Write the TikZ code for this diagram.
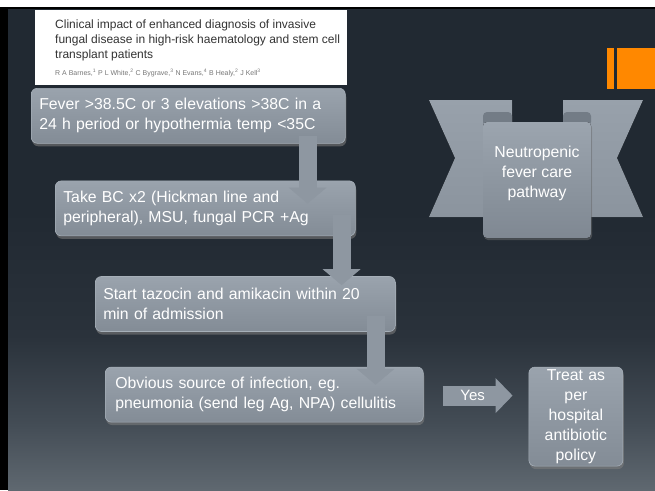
\documentclass[tikz,border=0pt]{standalone}
\usepackage{fontspec}
\setmainfont{Liberation Sans}
\usepackage{xcolor}
\usepackage{tikz}
\usetikzlibrary{shapes,arrows.meta,positioning,shadows,calc}
\definecolor{slidetop}{HTML}{212932}
\definecolor{slidemid}{HTML}{2A323B}
\definecolor{slidelow}{HTML}{434C55}
\definecolor{slidebot}{HTML}{5F6870}
\definecolor{boxtop}{HTML}{9AA3AD}
\definecolor{boxbot}{HTML}{838C96}
\definecolor{boxedge}{HTML}{A6AFB8}
\definecolor{arrowgray}{HTML}{8E97A1}
\definecolor{ribbontop}{HTML}{98A1AB}
\definecolor{ribbonbot}{HTML}{8B949E}
\definecolor{paneltop}{HTML}{9CA5AF}
\definecolor{panelbot}{HTML}{7F8892}
\definecolor{tabgray}{HTML}{737C86}
\definecolor{accent}{HTML}{FF8800}
\definecolor{papertext}{HTML}{333333}
\definecolor{authorgray}{HTML}{777777}
\pgfdeclareverticalshading{slidefade}{100bp}{color(0bp)=(slidebot); color(25bp)=(slidebot); color(32bp)=(slidelow); color(41bp)=(slidemid); color(54bp)=(slidetop); color(100bp)=(slidetop)}
\tikzstyle{box} = [rectangle, draw=boxedge, line width=0.6pt, top color=boxtop, bottom color=boxbot, text=white, rounded corners=6pt, align=left, minimum height=55pt, inner xsep=8pt, font=\fontsize{15.8}{20}\selectfont, drop shadow={shadow xshift=1pt, shadow yshift=-3pt, opacity=0.55}]
\tikzstyle{line} = [draw=arrowgray, line width=18pt, -{Triangle[width=37pt,length=16pt]}]
\tikzstyle{yesline} = [draw=arrowgray, line width=20pt, -{Triangle[width=34pt,length=17pt]}]
\tikzstyle{yeslabel} = [text=white, inner sep=0pt, font=\fontsize{15}{18}\selectfont]
\tikzstyle{paneltext} = [text=white, align=center, font=\fontsize{15.8}{20}\selectfont]

\begin{document}
\begin{tikzpicture}[x=1pt, y=-1pt]
        % Slide
        \useasboundingbox (0,0) rectangle (655,490);
        \fill[white] (0,0) rectangle (655,490);
        \fill[black] (0,7) rectangle (655,490);
        \fill[shading=slidefade] (8,9) rectangle (655,490);
        \fill[accent] (607,48) rectangle (614,89);
        \fill[accent] (617,48) rectangle (655,89);
        % Paper heading
        \fill[white] (35,10) rectangle (347,85);
        \node [anchor=north west, inner sep=0pt, align=left, text=papertext, font=\fontsize{12}{15}\selectfont] (paper) at (55,19.5) {Clinical impact of enhanced diagnosis of invasive\\fungal disease in high-risk haematology and stem cell\\transplant patients};
        \node [anchor=north west, inner sep=0pt, text=authorgray, font=\fontsize{7}{9}\selectfont] (authors) at ([yshift=-7.5pt]paper.south west) {R A Barnes,\textsuperscript{1} P L White,\textsuperscript{2} C Bygrave,\textsuperscript{3} N Evans,\textsuperscript{4} B Healy,\textsuperscript{2} J Kell\textsuperscript{3}};
        % Pathway banner
        \fill[top color=ribbontop, bottom color=ribbonbot] (429,100) -- (512,100) -- (512,217) -- (429,217) -- (455,158) -- cycle;
        \fill[top color=ribbontop, bottom color=ribbonbot] (563,100) -- (643,100) -- (617,158) -- (643,217) -- (563,217) -- cycle;
        \fill[tabgray, rounded corners=4pt] (483,112) rectangle (512,126);
        \fill[tabgray, rounded corners=4pt] (563,112) rectangle (591,126);
        \fill[top color=paneltop, bottom color=panelbot, rounded corners=4pt, drop shadow={shadow xshift=1pt, shadow yshift=-2pt, opacity=0.4}] (483,122) rectangle (591,238);
        \node [paneltext] (pathway) at (537,173) {Neutropenic\\fever care\\pathway};
        % Place nodes
        \node [box, anchor=north west, text width=298pt] (fever) at (31,88) {Fever >38.5C or 3 elevations >38C in a\\24 h period or hypothermia temp <35C};
        \node [box, below=37pt of fever.south west, anchor=north west, xshift=24pt, text width=284pt] (bloods) {Take BC x2 (Hickman line and\\peripheral), MSU, fungal PCR +Ag};
        \node [box, below=40pt of bloods.south west, anchor=north west, xshift=40pt, text width=284pt] (antibiotics) {Start tazocin and amikacin within 20\\min of admission};
        \node [box, below=35pt of antibiotics.south west, anchor=north west, xshift=10pt, inner xsep=10pt, text width=298pt] (source) {Obvious source of infection, eg.\\pneumonia (send leg Ag, NPA) cellulitis};
        \node [box, right=105pt of source.north east, anchor=north west, align=center, inner xsep=3pt, inner ysep=1pt, text width=88pt, minimum height=99pt] (treat) {Treat as\\per\\hospital\\antibiotic\\policy};
        % Draw edges
        \path [line] ($(fever.south east)+(-38,-8)$) -- ($(fever.south east |- bloods.north)+(-38,23)$);
        \path [line] ($(bloods.south east)+(-14,-21)$) -- ($(bloods.south east |- antibiotics.north)+(-14,9)$);
        \path [line] ($(antibiotics.south east)+(-20,-16)$) -- ($(antibiotics.south east |- source.north)+(-20,18)$);
        \path [yesline] ($(source.east)+(19,1)$) -- node [yeslabel, pos=0.43] (yes) {Yes} ($(source.east -| treat.west)+(-16,1)$);
\end{tikzpicture}
\end{document}
